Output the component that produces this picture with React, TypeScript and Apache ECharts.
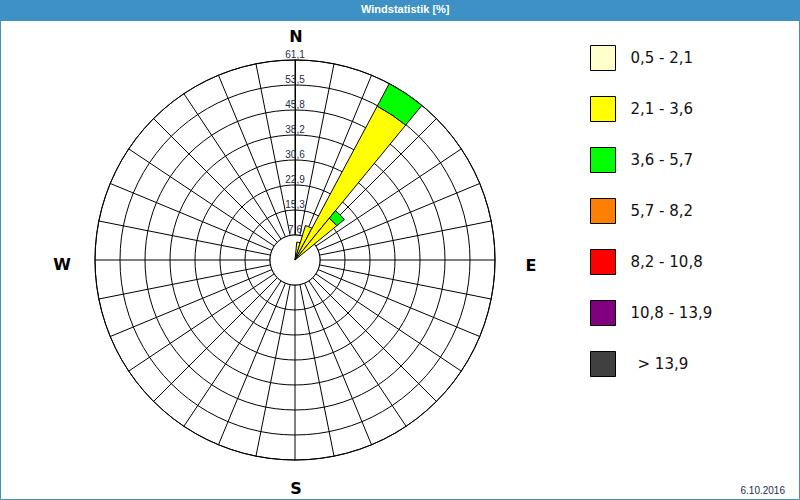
import React, { useEffect, useRef } from "react";
import * as echarts from "echarts";

// 32 wind directions (11.25° each), clockwise from north
const DIRECTIONS = [
  "N", "NzO", "NNO", "NOzN", "NO", "NOzO", "ONO", "OzN",
  "O", "OzS", "OSO", "SOzO", "SO", "SOzS", "SSO", "SzO",
  "S", "SzW", "SSW", "SWzS", "SW", "SWzW", "WSW", "WzS",
  "W", "WzN", "WNW", "NWzW", "NW", "NWzN", "NNW", "NzW",
];

const SPEED_CLASSES = ["0,5 - 2,1", "2,1 - 3,6", "3,6 - 5,7", "5,7 - 8,2", "8,2 - 10,8", "10,8 - 13,9", "> 13,9"];
const CLASS_COLORS = ["#FFFFCC", "#FFFF00", "#00FF00", "#FF8000", "#FF0000", "#800080", "#404040"];

const E = "-";
// percentages per direction, one array per speed class
const SPEED_05_21 = [E, E, E, E, E, E, E, E, E, E, E, E, E, E, E, E, E, E, E, E, E, E, E, E, E, E, E, E, E, E, E, E];
const SPEED_21_36 = [E, 5.5, 11.0, 53.3, 16.5, E, E, E, E, E, E, E, E, E, E, E, E, E, E, E, E, E, E, E, E, E, E, E, E, E, E, E];
const SPEED_36_57 = [E, E, E, 7.8, 3.0, E, E, E, E, E, E, E, E, E, E, E, E, E, E, E, E, E, E, E, E, E, E, E, E, E, E, E];
const SPEED_57_82 = [E, E, E, E, E, E, E, E, E, E, E, E, E, E, E, E, E, E, E, E, E, E, E, E, E, E, E, E, E, E, E, E];
const SPEED_82_108 = [E, E, E, E, E, E, E, E, E, E, E, E, E, E, E, E, E, E, E, E, E, E, E, E, E, E, E, E, E, E, E, E];
const SPEED_108_139 = [E, E, E, E, E, E, E, E, E, E, E, E, E, E, E, E, E, E, E, E, E, E, E, E, E, E, E, E, E, E, E, E];
const SPEED_139_UP = [E, E, E, E, E, E, E, E, E, E, E, E, E, E, E, E, E, E, E, E, E, E, E, E, E, E, E, E, E, E, E, E];
const SERIES_VALUES = [SPEED_05_21, SPEED_21_36, SPEED_36_57, SPEED_57_82, SPEED_82_108, SPEED_108_139, SPEED_139_UP];

const RADIUS_MAX = 61.1;
const RING_COUNT = 8;
const RADIUS_TICK_LABELS = ["7,6", "15,3", "22,9", "30,6", "38,2", "45,8", "53,5", "61,1"];

const TITLE = "Windstatistik [%]";
const DATE_TEXT = "6.10.2016";
const COMPASS = [
  { t: "N", x: 296, y: 36 },
  { t: "E", x: 531, y: 265 },
  { t: "S", x: 296, y: 488 },
  { t: "W", x: 62, y: 264 },
];

const CX = 295;
const CY = 260;
const R = 200;
const BLUE = "#3D91C4";

export default function App() {
  const ref = useRef<HTMLDivElement>(null);
  useEffect(() => {
    if (!ref.current) return;
    const chart = echarts.init(ref.current, null, { renderer: "svg" });
    const step = RADIUS_MAX / RING_COUNT;
    const sector = 360 / DIRECTIONS.length;
    const option: any = {
      animation: false,
      backgroundColor: "#FFFFFF",
      title: {
        text: TITLE,
        left: 361,
        top: 3,
        padding: 0,
        textStyle: { color: "#FFFFFF", fontSize: 11, fontWeight: "bold", fontFamily: "Liberation Sans" },
      },
      legend: {
        orient: "vertical",
        left: 590,
        top: 45,
        padding: 0,
        itemWidth: 25,
        itemHeight: 25,
        itemGap: 25,
        icon: "rect",
        selectedMode: false,
        itemStyle: { borderColor: "#000", borderWidth: 1 },
        textStyle: { fontSize: 15, color: "#111", fontFamily: "DejaVu Sans", padding: [0, 0, 0, 10] },
        data: SPEED_CLASSES.map((n, i) =>
          i === SPEED_CLASSES.length - 1
            ? { name: n, textStyle: { padding: [0, 0, 0, 17] } }
            : { name: n }
        ),
      },
      polar: [
        { center: [CX, CY], radius: R },
        { center: [CX, CY], radius: R },
      ],
      angleAxis: [
        {
          polarIndex: 0,
          type: "category",
          data: DIRECTIONS,
          boundaryGap: true,
          startAngle: 90 + sector / 2,
          clockwise: true,
          axisLine: { show: true, lineStyle: { color: "#000", width: 1 } },
          axisTick: { show: false },
          axisLabel: { show: false },
          splitLine: { show: false },
        },
        {
          polarIndex: 1,
          type: "value",
          min: 0,
          max: 360,
          interval: sector,
          startAngle: 90,
          clockwise: true,
          axisLine: { show: false },
          axisTick: { show: false },
          axisLabel: { show: false },
          splitLine: { show: true, lineStyle: { color: "#000", width: 1 } },
        },
      ],
      radiusAxis: [
        {
          polarIndex: 0,
          type: "value",
          min: 0,
          max: RADIUS_MAX,
          interval: step,
          axisLine: { show: false },
          axisTick: { show: false },
          axisLabel: { show: false },
          splitLine: { show: true, lineStyle: { color: "#000", width: 1 } },
        },
        {
          polarIndex: 1,
          type: "value",
          min: 0,
          max: RADIUS_MAX,
          interval: step,
          axisLine: { show: true, lineStyle: { color: "#000", width: 1 } },
          axisTick: { show: false },
          splitLine: { show: false },
          axisLabel: {
            show: true,
            showMinLabel: false,
            margin: 0,
            align: "center",
            verticalAlign: "bottom",
            padding: [0, 0, 1, 0],
            fontSize: 10,
            fontFamily: "Liberation Sans",
            color: "#1C2C4C",
            formatter: (v: number) => {
              const k = Math.round(v / step);
              return k >= 1 ? RADIUS_TICK_LABELS[k - 1] : "";
            },
          },
        },
      ],
      series: SPEED_CLASSES.map((name, i) => ({
        type: "bar",
        name,
        coordinateSystem: "polar",
        polarIndex: 0,
        stack: "wind",
        barCategoryGap: "0%",
        data: SERIES_VALUES[i],
        itemStyle: { color: CLASS_COLORS[i], borderColor: "#000", borderWidth: 1 },
        z: 3,
      })),
      graphic: [
        { type: "rect", z: 0, shape: { x: 0, y: 0, width: 800, height: 21 }, style: { fill: BLUE } },
        { type: "rect", z: 0, shape: { x: 0.5, y: 20.5, width: 799, height: 479 }, style: { fill: "none", stroke: BLUE, lineWidth: 1 } },
        { type: "circle", z: 1, shape: { cx: CX, cy: CY, r: R / RING_COUNT }, style: { fill: "#FFFFFF", stroke: "#000", lineWidth: 1 } },
        ...COMPASS.map((c) => ({
          type: "text",
          z: 5,
          x: c.x,
          y: c.y,
          style: { text: c.t, fill: "#000", font: "bold 16px 'DejaVu Sans'", textAlign: "center", textVerticalAlign: "middle" },
        })),
        {
          type: "text",
          z: 5,
          x: 785,
          y: 490,
          style: { text: DATE_TEXT, fill: "#1C2C4C", font: "10px 'Liberation Sans'", textAlign: "right", textVerticalAlign: "middle" },
        },
      ],
    };
    chart.setOption(option);
    return () => chart.dispose();
  }, []);
  return <div ref={ref} style={{ position: "absolute", left: 0, top: 0, width: 800, height: 500 }} />;
}
